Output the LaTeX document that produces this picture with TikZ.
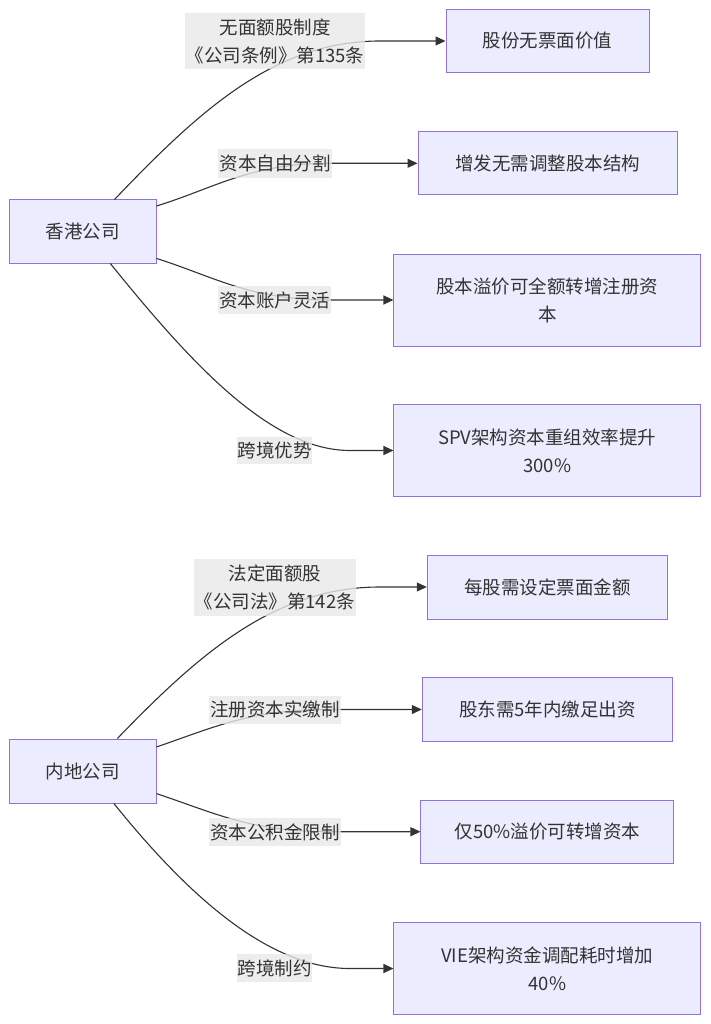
\documentclass[tikz,border=0pt]{standalone}
\usepackage{fontspec}
\setmainfont{Noto Sans CJK SC}
\usetikzlibrary{arrows.meta}
\definecolor{boxfill}{HTML}{ECECFF}
\definecolor{boxline}{HTML}{9370DB}
\definecolor{lblfill}{HTML}{E8E8E8}
\definecolor{ink}{HTML}{333333}

\begin{document}
\begin{tikzpicture}[x=1pt,y=-1pt,
    every node/.style={font=\fontsize{18.5}{28}\selectfont, text=ink, align=center},
    box/.style={draw=boxline, fill=boxfill, line width=1pt, inner sep=0pt},
    lbl/.style={fill=lblfill, fill opacity=0.8, text opacity=1, inner sep=0pt},
    edge/.style={draw=ink, line width=1.1pt, -{Triangle[length=10pt,width=9pt]}}]
    \useasboundingbox (0,0) rectangle (710,1024);

    % Hong Kong
    \node[box, minimum width=147pt, minimum height=63pt] (hk) at (82.5,231.5) {香港公司};
    \node[box, minimum width=203pt, minimum height=63pt] (hk-nopar) at (547.5,41) {股份无票面价值};
    \node[box, minimum width=259pt, minimum height=63pt] (hk-issue) at (547.5,163.3) {增发无需调整股本结构};
    \node[box, minimum width=306.7pt, minimum height=92pt] (hk-premium) at (547.3,300) {股本溢价可全额转增注册资\\本};
    \node[box, minimum width=306.7pt, minimum height=92pt] (hk-spv) at (547.3,450.5) {SPV架构资本重组效率提升\\300\%};

    \draw[edge] (hk.45) .. controls (200,110) and (275,41) .. (380,41) -- (hk-nopar.west);
    \draw[edge] (hk.19) .. controls (215,188) and (250,163.3) .. (330,163.3) -- (hk-issue.west);
    \draw[edge] (hk.-20) .. controls (215,277) and (250,300) .. (330,300) -- (hk-premium.west);
    \draw[edge] (hk.-49) .. controls (190,362) and (270,450.5) .. (350,450.5) -- (hk-spv.west);

    \node[lbl, minimum width=180pt, minimum height=56.3pt] (hk-l1) at (275,41) {无面额股制度\\《公司条例》第135条};
    \node[lbl, minimum width=113.7pt, minimum height=28.7pt] (hk-l2) at (275,163.3) {资本自由分割};
    \node[lbl, minimum width=112.7pt, minimum height=28pt] (hk-l3) at (274.7,300) {资本账户灵活};
    \node[lbl, minimum width=75pt, minimum height=27.6pt] (hk-l4) at (274.8,450.5) {跨境优势};

    % Mainland
    \node[box, minimum width=147pt, minimum height=64pt] (ml) at (82.5,771) {内地公司};
    \node[box, minimum width=240.4pt, minimum height=64pt] (ml-par) at (547.5,587) {每股需设定票面金额};
    \node[box, minimum width=250.4pt, minimum height=63.6pt] (ml-paid) at (547.5,709.5) {股东需5年内缴足出资};
    \node[box, minimum width=252.7pt, minimum height=63.3pt] (ml-reserve) at (547.3,831.7) {仅50\%溢价可转增资本};
    \node[box, minimum width=306.7pt, minimum height=91.6pt] (ml-vie) at (547.3,968.5) {VIE架构资金调配耗时增加\\40\%};

    \draw[edge] (ml.43) .. controls (200,653) and (275,587) .. (380,587) -- (ml-par.west);
    \draw[edge] (ml.18) .. controls (215,727) and (250,709.5) .. (330,709.5) -- (ml-paid.west);
    \draw[edge] (ml.-17) .. controls (215,813) and (250,831.7) .. (330,831.7) -- (ml-reserve.west);
    \draw[edge] (ml.-46) .. controls (190,898) and (270,968.5) .. (350,968.5) -- (ml-vie.west);

    \node[lbl, minimum width=161.7pt, minimum height=56.7pt] (ml-l1) at (274.8,587.3) {法定面额股\\《公司法》第142条};
    \node[lbl, minimum width=131.7pt, minimum height=28pt] (ml-l2) at (274.8,709.7) {注册资本实缴制};
    \node[lbl, minimum width=131.7pt, minimum height=28.3pt] (ml-l3) at (274.8,832) {资本公积金限制};
    \node[lbl, minimum width=75pt, minimum height=28pt] (ml-l4) at (274.8,968.3) {跨境制约};
\end{tikzpicture}
\end{document}
